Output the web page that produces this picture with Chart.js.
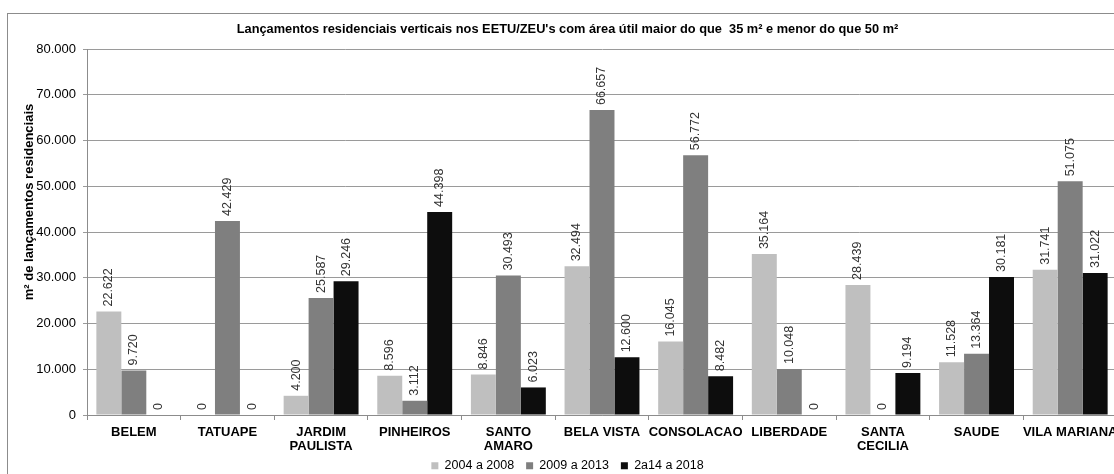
<!DOCTYPE html>
<html>
<head>
<meta charset="utf-8">
<script src="https://cdn.jsdelivr.net/npm/chart.js@4/dist/chart.umd.min.js"></script>
<style>
  html, body { margin: 0; padding: 0; background: #fff; overflow: hidden; width: 1114px; height: 474px; }
  #wrap { position: absolute; left: 0; top: 0; width: 1130px; height: 490px; }
  canvas { display: block; }
</style>
</head>
<body>
<div id="wrap"><canvas id="c" width="1130" height="490" style="width:1130px;height:490px"></canvas></div>
<script>
const categories = ['BELEM', 'TATUAPE', ['JARDIM', 'PAULISTA'], 'PINHEIROS', ['SANTO', 'AMARO'], 'BELA VISTA', 'CONSOLACAO', 'LIBERDADE', ['SANTA', 'CECILIA'], 'SAUDE', 'VILA MARIANA'];
const seriesNames = ['2004 a 2008', '2009 a 2013', '2a14 a 2018'];
const values2004to2008 = [22622, 0, 4200, 8596, 8846, 32494, 16045, 35164, 28439, 11528, 31741];
const values2009to2013 = [9720, 42429, 25587, 3112, 30493, 66657, 56772, 10048, 0, 13364, 51075];
const values2014to2018 = [0, 0, 29246, 44398, 6023, 12600, 8482, 0, 9194, 30181, 31022];
const chartTitle = "Lançamentos residenciais verticais nos EETU/ZEU's com área útil maior do que  35 m² e menor do que 50 m²";
const yAxisTitle = 'm² de lançamentos residenciais';
const yMin = 0, yMax = 80000, yStep = 10000;

const FONT = '"Liberation Sans", Arial, sans-serif';
Chart.defaults.font.family = FONT;

function fmt(n) {
  return String(Math.round(n)).replace(/\B(?=(\d{3})+(?!\d))/g, '.');
}

const frame = {
  id: 'frame',
  beforeDraw(chart) {
    const ctx = chart.ctx;
    ctx.save();
    ctx.fillStyle = '#fff';
    ctx.fillRect(0, 0, chart.width, chart.height);
    ctx.strokeStyle = '#8c8c8c';
    ctx.lineWidth = 1;
    ctx.strokeRect(7.5, 13.5, 1140, 520);
    ctx.restore();
  }
};

const yTitle = {
  id: 'yTitle',
  afterDraw(chart) {
    const ctx = chart.ctx;
    ctx.save();
    ctx.translate(29, 202);
    ctx.rotate(-Math.PI / 2);
    ctx.font = 'bold 13px ' + FONT;
    ctx.fillStyle = '#000';
    ctx.textAlign = 'center';
    ctx.textBaseline = 'middle';
    ctx.fillText(yAxisTitle, 0, 0);
    ctx.restore();
  }
};

const barLabels = {
  id: 'barLabels',
  afterDatasetsDraw(chart) {
    const ctx = chart.ctx;
    ctx.save();
    ctx.font = '12.5px ' + FONT;
    ctx.fillStyle = '#333';
    ctx.textAlign = 'left';
    ctx.textBaseline = 'middle';
    chart.data.datasets.forEach((ds, i) => {
      const meta = chart.getDatasetMeta(i);
      meta.data.forEach((el, j) => {
        ctx.save();
        ctx.translate(el.x, el.y - 5);
        ctx.rotate(-Math.PI / 2);
        ctx.fillText(fmt(ds.data[j]), 0, 0);
        ctx.restore();
      });
    });
    ctx.restore();
  }
};

new Chart(document.getElementById('c'), {
  type: 'bar',
  data: {
    labels: categories,
    datasets: [
      { label: seriesNames[0], data: values2004to2008, backgroundColor: '#bfbfbf' },
      { label: seriesNames[1], data: values2009to2013, backgroundColor: '#7f7f7f' },
      { label: seriesNames[2], data: values2014to2018, backgroundColor: '#0d0d0d' }
    ]
  },
  options: {
    responsive: false,
    animation: false,
    devicePixelRatio: 1,
    categoryPercentage: 0.8,
    barPercentage: 1.0,
    layout: { padding: { left: 18, right: 13, top: 0, bottom: 8 } },
    plugins: {
      title: {
        display: true,
        text: chartTitle,
        color: '#000',
        font: { size: 12.8, weight: 'bold', family: FONT },
        padding: { top: 21.3, bottom: 12.34 }
      },
      legend: {
        display: true,
        position: 'bottom',
        labels: {
          boxWidth: 7,
          boxHeight: 7,
          padding: 12,
          color: '#000',
          font: { size: 12.5, family: FONT }
        }
      },
      tooltip: { enabled: false }
    },
    scales: {
      x: {
        offset: true,
        grid: { display: true, drawOnChartArea: false, offset: true, tickLength: 5, color: '#8c8c8c' },
        border: { display: true, color: '#8c8c8c' },
        ticks: { color: '#000', font: { size: 13, weight: 'bold', family: FONT, lineHeight: 1.08 }, padding: 5, maxRotation: 0, autoSkip: false },
        afterFit(scale) {
          scale.height = 32.5;
          scale._computeLabelArea = () => undefined;
        }
      },
      y: {
        min: yMin,
        max: yMax,
        ticks: { stepSize: yStep, color: '#000', font: { size: 13, family: FONT }, padding: 7, callback: v => fmt(v) },
        grid: { color: '#9a9a9a', tickLength: 4 },
        border: { display: true, color: '#8c8c8c' },
        afterFit(scale) { scale.width = 69; }
      }
    }
  },
  plugins: [frame, barLabels, yTitle]
});
</script>
</body>
</html>
